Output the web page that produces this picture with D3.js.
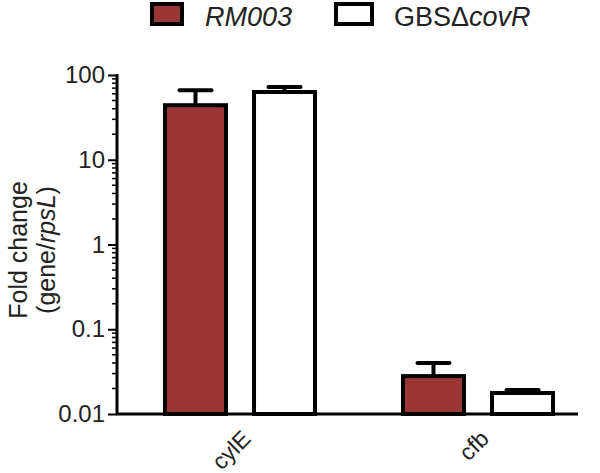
<!DOCTYPE html>
<html>
<head>
<meta charset="utf-8">
<script src="https://cdn.jsdelivr.net/npm/d3@7"></script>
<style>
  body { margin: 0; background: #fff; }
  svg { font-family: 'Liberation Sans', Arial, sans-serif; }
</style>
</head>
<body>
<svg id="chart" width="600" height="473"></svg>
<script>
// data
const genes = ['cylE', 'cfb'];
const strains = ['RM003', 'GBScovR'];
const meanRM003 = [44, 0.028];
const errRM003 = [66, 0.040];
const meanCovR = [63, 0.0177];
const errCovR = [72, 0.0192];
const yTicks = [0.01, 0.1, 1, 10, 100];
const fills = ['#9b3636', '#ffffff'];

const rows = genes.map((g, i) => ({
  gene: g,
  vals: [
    { s: strains[0], v: meanRM003[i], e: errRM003[i] },
    { s: strains[1], v: meanCovR[i], e: errCovR[i] }
  ]
}));

const svg = d3.select('#chart');
const plotL = 117, plotR = 578, plotT = 75, plotB = 414;

const y = d3.scaleLog().domain([0.01, 100]).range([plotB, plotT]);
const x0 = d3.scaleBand().domain(genes).range([121, 597]).padding(0);
const x1 = d3.scaleBand().domain(strains).range([-75, 75]).paddingInner(0.315).paddingOuter(0);
const color = d3.scaleOrdinal().domain(strains).range(fills);

// bars
const g = svg.append('g');
rows.forEach(r => {
  const cx = x0(r.gene) + x0.bandwidth() / 2;
  r.vals.forEach(d => {
    const bx = cx + x1(d.s);
    const mid = bx + x1.bandwidth() / 2;
    // whisker
    g.append('line')
      .attr('x1', mid).attr('x2', mid)
      .attr('y1', y(d.v)).attr('y2', y(d.e))
      .attr('stroke', '#000').attr('stroke-width', 4);
    g.append('line')
      .attr('x1', mid - 16).attr('x2', mid + 16)
      .attr('y1', y(d.e)).attr('y2', y(d.e))
      .attr('stroke', '#000').attr('stroke-width', 4)
      .attr('stroke-linecap', 'round');
    g.append('rect')
      .attr('x', bx).attr('width', x1.bandwidth())
      .attr('y', y(d.v)).attr('height', plotB - y(d.v))
      .attr('fill', color(d.s))
      .attr('stroke', '#000').attr('stroke-width', 4);
  });
});

// y axis
const yAxis = svg.append('g').attr('transform', `translate(${plotL},0)`);
yAxis.call(d3.axisLeft(y).tickValues(yTicks).tickSize(9).tickPadding(3)
  .tickFormat(d => d >= 1 ? d3.format('d')(d) : String(d)));
yAxis.select('.domain').remove();
yAxis.selectAll('.tick line').attr('stroke', '#000').attr('stroke-width', 2);
yAxis.selectAll('.tick text').attr('font-size', 24).attr('fill', '#222')
  .attr('font-family', "'Liberation Sans', Arial, sans-serif");

// minor ticks
const minors = [];
for (let p = -2; p < 2; p++) for (let k = 2; k <= 9; k++) minors.push(k * Math.pow(10, p));
svg.append('g').selectAll('line').data(minors).join('line')
  .attr('x1', plotL - 5).attr('x2', plotL)
  .attr('y1', d => y(d)).attr('y2', d => y(d))
  .attr('stroke', '#000').attr('stroke-width', 1.5);

// axis lines
svg.append('line').attr('x1', plotL).attr('x2', plotL).attr('y1', plotT - 1).attr('y2', plotB + 1)
  .attr('stroke', '#000').attr('stroke-width', 3);
svg.append('line').attr('x1', plotL - 1).attr('x2', plotR).attr('y1', plotB).attr('y2', plotB)
  .attr('stroke', '#000').attr('stroke-width', 3);

// x labels
genes.forEach(gn => {
  const cx = x0(gn) + x0.bandwidth() / 2;
  svg.append('text')
    .attr('transform', `translate(${cx},${plotB + 14}) rotate(-45)`)
    .attr('text-anchor', 'end').attr('dy', '0.75em')
    .attr('font-size', 23).attr('fill', '#222')
    .text(gn);
});

// y title
const yt = svg.append('text').attr('transform', 'translate(0,250) rotate(-90)')
  .attr('text-anchor', 'middle').attr('font-size', 25).attr('fill', '#222');
yt.append('tspan').attr('x', 0).attr('y', 27).text('Fold change');
const t2 = yt.append('tspan').attr('x', 0).attr('y', 55);
t2.append('tspan').text('(gene/');
t2.append('tspan').attr('font-style', 'italic').text('rpsL');
t2.append('tspan').text(')');

// legend
const leg = svg.append('g');
leg.append('rect').attr('x', 152).attr('y', 4).attr('width', 30).attr('height', 20)
  .attr('fill', fills[0]).attr('stroke', '#000').attr('stroke-width', 4);
leg.append('text').attr('x', 205).attr('y', 26).attr('font-size', 27)
  .attr('font-style', 'italic').attr('fill', '#222').text('RM003');
leg.append('rect').attr('x', 336).attr('y', 4).attr('width', 36).attr('height', 20)
  .attr('fill', fills[1]).attr('stroke', '#000').attr('stroke-width', 4);
const lt = leg.append('text').attr('x', 394).attr('y', 26).attr('font-size', 27).attr('fill', '#222');
lt.append('tspan').text('GBSΔ');
lt.append('tspan').attr('font-style', 'italic').text('covR');
</script>
</body>
</html>
